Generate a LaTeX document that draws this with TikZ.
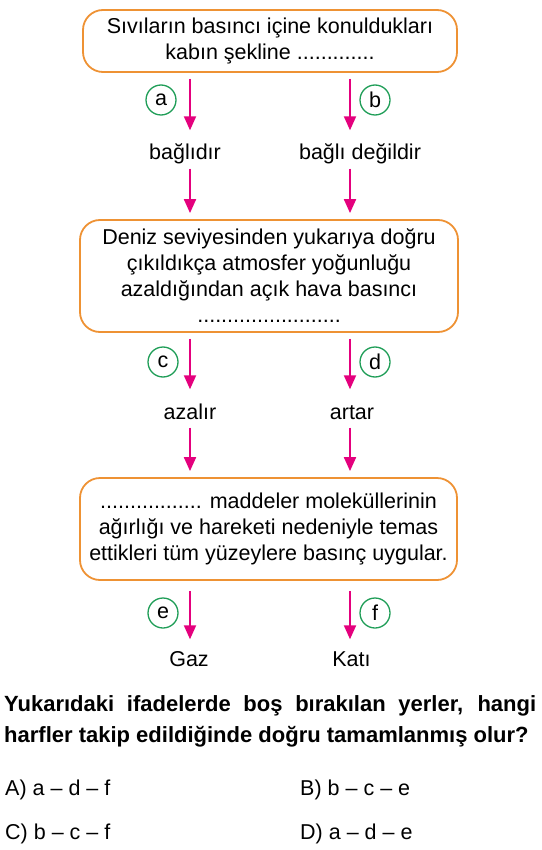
\documentclass[tikz,border=0pt]{standalone}
\usepackage{fontspec}
\setmainfont{Liberation Sans}
\usetikzlibrary{arrows.meta}
\definecolor{turuncu}{RGB}{238,146,52}
\definecolor{pembe}{RGB}{228,0,125}
\definecolor{yesil}{RGB}{32,158,88}

\begin{document}
\begin{tikzpicture}[x=1pt,y=-1pt,
        kutu/.style={draw=turuncu,line width=1.8pt,rounded corners=20pt,align=center,inner sep=0pt,
            font=\fontsize{21.5}{26}\selectfont},
        ok/.style={draw=pembe,line width=2pt,-{Triangle[length=14pt,width=12pt]},shorten <=6pt,shorten >=14pt},
        okalt/.style={draw=pembe,line width=2pt,-{Triangle[length=14pt,width=12pt]},shorten <=4pt,shorten >=6pt},
        harf/.style={circle,draw=yesil,line width=1.3pt,fill=white,minimum size=30pt,inner sep=0pt,
            font=\fontsize{21.5}{24}\selectfont},
        etiket/.style={inner sep=0pt,anchor=base,text height=15.5pt,text depth=4.5pt,font=\fontsize{21.5}{24}\selectfont},
        secenek/.style={inner sep=0pt,anchor=base west,font=\fontsize{21.5}{24}\selectfont}]
                \useasboundingbox (0,0) rectangle (541,850);
                \coordinate (sol) at (190,0);
                \coordinate (sag) at (350,0);

                \node[kutu,minimum width=374pt,minimum height=62pt] (k1) at (270,41)
                    {Sıvıların basıncı içine konuldukları\\kabın şekline .............};
                \node[etiket] (t1) at (185,160) {bağlıdır};
                \node[etiket] (t2) at (360,160) {bağlı değildir};
                \draw[ok] (k1.south -| sol) -- (t1.north -| sol);
                \draw[ok] (k1.south -| sag) -- (t2.north -| sag);
                \node[harf] (a) at (161,100) {a};
                \node[harf] (b) at (375,100) {b};

                \node[kutu,minimum width=378pt,minimum height=112pt] (k2) at (269,276)
                    {Deniz seviyesinden yukarıya doğru\\çıkıldıkça atmosfer yoğunluğu\\azaldığından açık hava basıncı\\........................};
                \draw[okalt] (t1.south -| sol) -- (k2.north -| sol);
                \draw[okalt] (t2.south -| sag) -- (k2.north -| sag);
                \node[etiket] (t3) at (190,419) {azalır};
                \node[etiket] (t4) at (352,419) {artar};
                \draw[ok] (k2.south -| sol) -- (t3.north -| sol);
                \draw[ok] (k2.south -| sag) -- (t4.north -| sag);
                \node[harf] (c) at (163,362) {c};
                \node[harf] (d) at (375,362) {d};

                \node[kutu,minimum width=377pt,minimum height=102pt] (k3) at (268.5,529)
                    {................. maddeler moleküllerinin\\ağırlığı ve hareketi nedeniyle temas\\ettikleri tüm yüzeylere basınç uygular.};
                \draw[okalt] (t3.south -| sol) -- (k3.north -| sol);
                \draw[okalt] (t4.south -| sag) -- (k3.north -| sag);
                \node[etiket] (t5) at (189,666) {Gaz};
                \node[etiket] (t6) at (351.5,666) {Katı};
                \draw[ok,shorten <=10pt,shorten >=11pt] (k3.south -| sol) -- (t5.north -| sol);
                \draw[ok,shorten <=10pt,shorten >=11pt] (k3.south -| sag) -- (t6.north -| sag);
                \node[harf] (e) at (163,613) {e};
                \node[harf] (f) at (375,613) {f};

                \node[anchor=north west,text width=532pt,align=justify,inner sep=0pt,
                    font=\bfseries\fontsize{22}{31}\selectfont] (soru) at (4,695)
                    {Yukarıdaki ifadelerde boş bırakılan yerler, hangi\linebreak harfler takip edildiğinde doğru tamamlanmış olur?};
                \node[secenek] (sa) at (5,795) {A) a -- d -- f};
                \node[secenek] (sb) at (300,795) {B) b -- c -- e};
                \node[secenek] (sc) at (5,839) {C) b -- c -- f};
                \node[secenek] (sd) at (300,839) {D) a -- d -- e};
            \end{tikzpicture}
\end{document}
